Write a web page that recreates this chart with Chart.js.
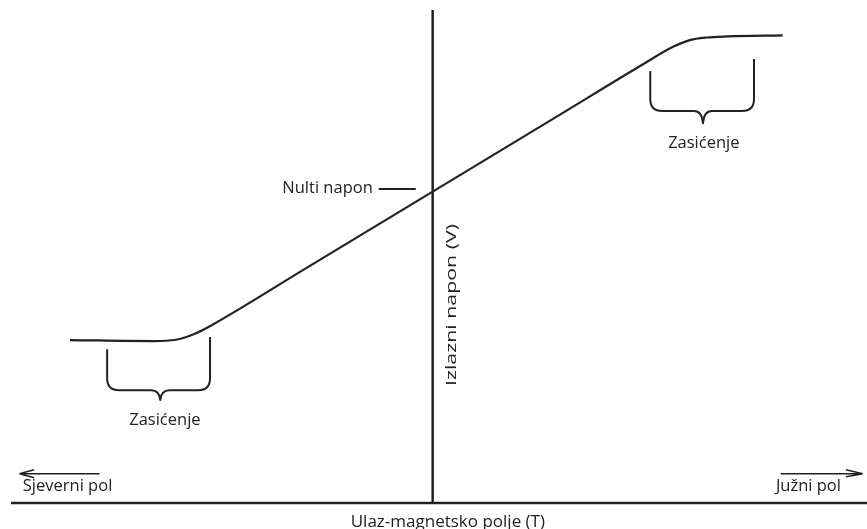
<!DOCTYPE html>
<html lang="hr">
<head>
    <meta charset="UTF-8">
    <title>Hall senzor - izlazni napon</title>
    <script src="https://cdn.jsdelivr.net/npm/chart.js"></script>
    <style>
        body {
            margin: 0;
            background: white;
        }
        #wrap {
            width: 867px;
            height: 529px;
        }
    </style>
</head>
<body>
    <div id="wrap">
        <canvas id="hallChart" width="867" height="529"></canvas>
    </div>

    <script>
        // ulaz (magnetsko polje) i izlaz (napon), proizvoljne jedinice
        const fieldValues = [-8.6, -6.6, -6.0, -5.6, -5.2, -3.0, 0, 3.0, 5.0, 5.7, 6.1, 6.5, 7.0, 8.3];
        const voltageValues = [-5.72, -5.76, -5.68, -5.45, -5.11, -2.95, 0, 2.95, 4.92, 5.58, 5.84, 5.94, 5.98, 6.02];
        const xRange = [-10, 10.3];
        const yRange = [-12, 7];

        const xTitle = 'Ulaz-magnetsko polje (T)';
        const yTitle = 'Izlazni napon (V)';
        const zeroLabel = 'Nulti napon';
        const satLabel = 'Zasićenje';
        const northLabel = 'Sjeverni pol';
        const southLabel = 'Južni pol';

        const points = fieldValues.map((v, i) => ({ x: v, y: voltageValues[i] }));
        const ink = '#222';
        const font = "'Open Sans', sans-serif";

        // osi, zagrade, strelice i natpisi
        const decorations = {
            id: 'decorations',
            beforeDatasetsDraw(chart) {
                const c = chart.ctx;
                const sx = chart.scales.x, sy = chart.scales.y;
                const px = v => sx.getPixelForValue(v);
                const py = v => sy.getPixelForValue(v);

                c.save();
                c.strokeStyle = ink;
                c.lineWidth = 2.5;
                c.beginPath();
                c.moveTo(px(xRange[0]), py(yRange[0]));
                c.lineTo(px(xRange[1]), py(yRange[0]));
                c.moveTo(px(0), py(yRange[0]));
                c.lineTo(px(0), py(yRange[1]));
                c.stroke();
                c.restore();
            },
            afterDatasetsDraw(chart) {
                const c = chart.ctx;
                const sx = chart.scales.x, sy = chart.scales.y;
                const px = v => sx.getPixelForValue(v);
                const py = v => sy.getPixelForValue(v);

                function brace(xl, yl, xr, yr, yb, xm, yt) {
                    const L = px(xl), R = px(xr), M = px(xm);
                    const B = py(yb), T = py(yt);
                    const r = 12, r2 = 9;
                    c.beginPath();
                    c.moveTo(L, py(yl));
                    c.lineTo(L, B - r);
                    c.quadraticCurveTo(L, B, L + r, B);
                    c.lineTo(M - r2, B);
                    c.quadraticCurveTo(M - 1, B, M, T);
                    c.quadraticCurveTo(M + 1, B, M + r2, B);
                    c.lineTo(R - r, B);
                    c.quadraticCurveTo(R, B, R, B - r);
                    c.lineTo(R, py(yr));
                    c.stroke();
                }

                c.save();
                c.strokeStyle = ink;
                c.lineWidth = 2;
                c.lineJoin = 'round';
                brace(-7.72, -6.07, -5.28, -5.6, -7.65, -6.46, -8.03);
                brace(5.16, 4.65, 7.62, 5.11, 3.11, 6.41, 2.64);

                // crtica kod nultog napona
                c.beginPath();
                c.moveTo(px(-1.28), py(0.1));
                c.lineTo(px(-0.4), py(0.1));
                c.stroke();

                // strelice polova
                c.lineWidth = 1.5;
                const ay = py(-10.87);
                c.beginPath();
                c.moveTo(px(-9.8), ay);
                c.lineTo(px(-7.9), ay);
                c.moveTo(px(-9.8), ay);
                c.lineTo(px(-9.45), ay - 4);
                c.moveTo(px(-9.8), ay);
                c.lineTo(px(-9.45), ay + 4);
                c.moveTo(px(8.25), ay);
                c.lineTo(px(10.2), ay);
                c.moveTo(px(10.2), ay);
                c.lineTo(px(9.8), ay - 4);
                c.moveTo(px(10.2), ay);
                c.lineTo(px(9.8), ay + 3);
                c.stroke();

                c.fillStyle = ink;
                c.textBaseline = 'middle';
                c.font = '16.5px ' + font;
                c.textAlign = 'center';
                c.fillText(satLabel, px(-6.35), py(-8.8));
                c.fillText(satLabel, px(6.43), py(1.87));
                c.textAlign = 'right';
                c.fillText(zeroLabel, px(-1.42), py(0.14));
                c.textAlign = 'left';
                c.fillText(northLabel, px(-9.72), py(-11.35));
                c.fillText(southLabel, px(8.14), py(-11.35));
                c.textAlign = 'center';
                c.font = '17px ' + font;
                c.fillText(xTitle, px(0.36), py(-12) + 19);

                // okomiti natpis, razvucen po duzini kao u originalu
                c.save();
                c.translate(px(0.46), py(-4.37));
                c.rotate(-Math.PI / 2);
                c.font = '15px ' + font;
                const w = c.measureText(yTitle).width;
                c.scale(162 / w, 1);
                c.fillText(yTitle, 0, 0);
                c.restore();
                c.restore();
            }
        };

        const ctx = document.getElementById('hallChart').getContext('2d');
        new Chart(ctx, {
            type: 'line',
            data: {
                datasets: [{
                    data: points,
                    borderColor: ink,
                    borderWidth: 2.2,
                    pointRadius: 0,
                    cubicInterpolationMode: 'monotone',
                    fill: false
                }]
            },
            options: {
                responsive: false,
                animation: false,
                devicePixelRatio: 1,
                layout: { padding: { left: 11, right: 0, top: 10, bottom: 26 } },
                scales: {
                    x: { type: 'linear', min: xRange[0], max: xRange[1], display: false },
                    y: { type: 'linear', min: yRange[0], max: yRange[1], display: false }
                },
                plugins: {
                    legend: { display: false },
                    tooltip: { enabled: false }
                }
            },
            plugins: [decorations]
        });
    </script>
</body>
</html>
